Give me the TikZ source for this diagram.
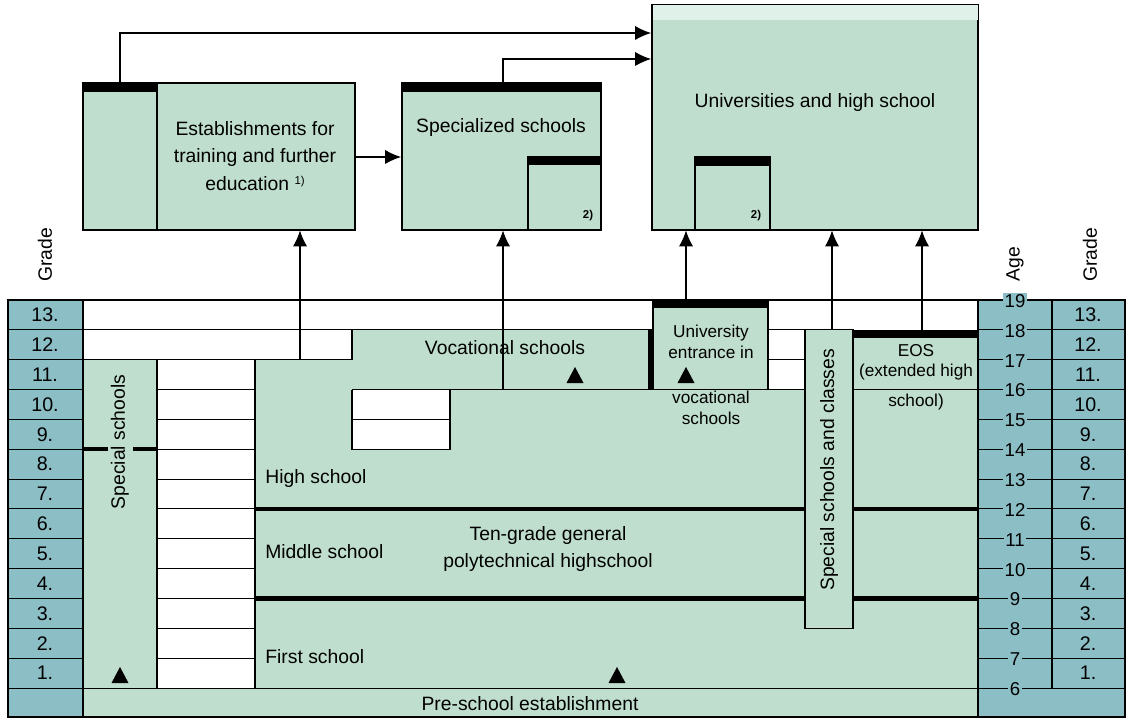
\documentclass[tikz,border=0pt]{standalone}
\usepackage{fontspec}
\setmainfont{Liberation Sans}
\usetikzlibrary{arrows.meta}
\definecolor{schoolgreen}{RGB}{191,222,205}
\definecolor{gradeblue}{RGB}{140,190,198}
\definecolor{paleband}{RGB}{224,241,234}
\tikzset{
  rule/.style={line width=0.6pt},
  heavy/.style={line width=2.4pt},
  up/.style={rule,-{Latex[length=9pt,width=8pt]}},
  lbl/.style={font=\fontsize{11}{15.5}\selectfont,align=center,inner sep=0pt},
  lblsmall/.style={font=\fontsize{9.8}{11.6}\selectfont,align=center,inner sep=0pt},
  num/.style={font=\fontsize{11.2}{13}\selectfont,inner sep=1pt},
  agenum/.style={font=\fontsize{10.6}{12}\selectfont,inner sep=1pt,fill=gradeblue},
  note/.style={font=\fontsize{6.5}{8}\selectfont\bfseries,inner sep=0pt}
}
\newcommand{\tri}[1]{\fill #1 +(-8.5,7) -- +(8.5,7) -- +(0,-9) -- cycle;}
\begin{document}
\begin{tikzpicture}[x=0.02cm,y=-0.02cm]
    \useasboundingbox (0,0) rectangle (1128,719);

    % upper boxes
    \filldraw[rule,fill=schoolgreen] (83,83) rectangle (355,230);
    \fill (83,83) rectangle (157,92);
    \draw[rule] (157,83) -- (157,230);
    \filldraw[rule,fill=schoolgreen] (402,83) rectangle (601,230);
    \fill (402,83) rectangle (601,92);
    \draw[rule] (528,230) |- (601,157);
    \fill (528,157) rectangle (601,165);
    \filldraw[rule,fill=schoolgreen] (652,5) rectangle (978,230);
    \fill[paleband] (652.5,5.5) rectangle (977.5,20);
    \draw[rule] (695,230) |- (770,157) -- (770,230);
    \fill (695,157) rectangle (770,166);

    \node[lbl] (train) at (255,156) {Establishments for\\training and further\\education {\fontsize{6.5}{8}\selectfont\raisebox{3pt}{1)}}};
    \node[lbl] (spec) at (501,128) {Specialized schools};
    \node[lbl] (univ) at (815,103) {Universities and high school};
    \node[note] (n2a) at (588,216) {2)};
    \node[note] (n2b) at (756,216) {2)};

    \coordinate (trainTop) at (120,83);
    \coordinate (specTop) at (503,83);
    \coordinate (univA) at (651,33);
    \coordinate (univB) at (651,59);
    \coordinate (trainR) at (355,157);
    \coordinate (specL) at (401,157);
    \draw[up] (trainTop) |- (univA);
    \draw[up] (specTop) |- (univB);
    \draw[up] (trainR) -- (specL);

    % table background
    \fill[schoolgreen] (83,300) rectangle (978,717);
    \fill[gradeblue] (8,300) rectangle (83,717);
    \fill[gradeblue] (978,300) rectangle (1125,717);
    \fill[white] (83,300) rectangle (653,329.85);
    \fill[white] (768,300) rectangle (978,329.85);
    \fill[white] (83,329.85) rectangle (352,359.7);
    \fill[white] (768,329.85) rectangle (805,389.55);
    \fill[white] (157,359.7) rectangle (255,688.05);
    \fill[white] (352,389.55) rectangle (450,449.25);

    % grade and age columns
    \draw[rule] (8,300) rectangle (1125,717);
    \draw[rule] (83,300) -- (83,717);
    \draw[rule] (978,300) -- (978,717);
    \draw[rule] (1052,300) -- (1052,688.05);
    \foreach \k in {1,...,13}{
        \pgfmathsetmacro\yy{300+\k*29.85}
        \draw[rule] (8,\yy) -- (83,\yy);
    }
    \foreach \k in {0,...,13}{
        \pgfmathsetmacro\yy{300+\k*29.85}
        \pgfmathtruncatemacro\age{19-\k}
        \draw[rule] (978,\yy) -- (1125,\yy);
        \node[agenum] (age\k) at (1015,\yy+1) {\age};
    }
    \foreach \g in {1,...,13}{
        \pgfmathsetmacro\yy{300+(13-\g)*29.85+14.9}
        \node[num] (gl\g) at (45,\yy) {\g.};
        \node[num] (gr\g) at (1088,\yy) {\g.};
    }
    \node[lbl,rotate=90] (gradeL) at (45,255) {Grade};
    \node[lbl,rotate=90] (ageR) at (1015,264) {Age};
    \node[lbl,rotate=90] (gradeR) at (1090,255) {Grade};

    % school blocks
    \draw[rule] (83,329.85) -- (653,329.85);
    \draw[rule] (768,329.85) -- (805,329.85);
    \draw[rule] (768,359.7) -- (805,359.7);
    \draw[rule] (83,359.7) -- (352,359.7) -- (352,329.85);
    \draw[rule] (352,389.55) -- (805,389.55);
    \draw[rule] (157,359.7) -- (157,688.05);
    \draw[rule] (255,359.7) -- (255,688.05);
    \foreach \k in {3,...,12}{
        \pgfmathsetmacro\yy{300+\k*29.85}
        \draw[rule] (157,\yy) -- (255,\yy);
    }
    \draw[rule] (352,389.55) -- (352,449.25) -- (450,449.25) -- (450,389.55);
    \draw[rule] (352,419.4) -- (450,419.4);
    \draw[rule] (83,688.05) -- (978,688.05);
    \draw[heavy] (83,449.25) -- (108,449.25);
    \draw[heavy] (133,449.25) -- (157,449.25);

    \filldraw[rule,fill=schoolgreen] (653,300) rectangle (768,389.55);
    \fill (653,300) rectangle (768,308);
    \draw[heavy] (650.5,329.85) -- (650.5,389.55);
    \filldraw[rule,fill=schoolgreen] (805,329.85) rectangle (853,628.35);
    \fill (853,329.85) rectangle (978,338);
    \draw[rule] (853,389.55) -- (978,389.55);
    \draw[heavy] (255,508.95) -- (805,508.95);
    \draw[heavy] (853,508.95) -- (978,508.95);
    \draw[heavy] (255,598.5) -- (805,598.5);
    \draw[heavy] (853,598.5) -- (978,598.5);

    \node[lbl,rotate=90] (specl) at (120,442) {Special schools};
    \node[lbl] (voc) at (505,348) {Vocational schools};
    \node[lblsmall] (entr) at (711,342) {University\\entrance in};
    \node[lblsmall] (entrb) at (711,408) {vocational\\schools};
    \node[lbl,rotate=90] (specc) at (829,470) {Special schools and classes};
    \node[lblsmall] (eos) at (916,362) {EOS\\(extended high};
    \node[lblsmall] (eosb) at (916,402) {school)};
    \node[lbl,anchor=west] (high) at (265,478) {High school};
    \node[lbl,anchor=west] (mid) at (265,552) {Middle school};
    \node[lbl,anchor=west] (first) at (265,657) {First school};
    \node[lbl] (ten) at (548,549) {Ten-grade general\\polytechnical highschool};
    \node[lbl] (pre) at (530,704) {Pre-school establishment};

    \tri{(120,676)}
    \tri{(575,376)}
    \tri{(686,376)}
    \tri{(617,676)}

    % transitions upward
    \coordinate (a1) at (300,359.7);
    \coordinate (a2) at (503,389.55);
    \coordinate (a3) at (686,300);
    \coordinate (a4) at (832,329.85);
    \coordinate (a5) at (922,329.85);
    \draw[up] (a1) -- (300,230.5);
    \draw[up] (a2) -- (503,230.5);
    \draw[up] (a3) -- (686,230.5);
    \draw[up] (a4) -- (832,230.5);
    \draw[up] (a5) -- (922,230.5);
\end{tikzpicture}
\end{document}
